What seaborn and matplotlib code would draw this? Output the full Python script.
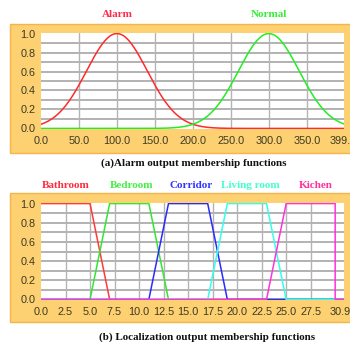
import numpy as np
import pandas as pd
import matplotlib
matplotlib.use("Agg")
import matplotlib.pyplot as plt
from matplotlib.patches import Rectangle
from matplotlib.transforms import ScaledTranslation
import seaborn as sns

# --- Alarm output: gaussian membership functions (center, width) ---
alarm_names = ["Alarm", "Normal"]
alarm_centers = [100.0, 300.0]
alarm_sigmas = [40.0, 40.0]
alarm_colors = ["#ff2a2a", "#22ee22"]
alarm_label_colors = ["#ff2a4a", "#33ee33"]
alarm_xmax = 399.0
alarm_ticks = [0, 50, 100, 150, 200, 250, 300, 350, 399]
alarm_ticklabels = ["0.0", "50.0", "100.0", "150.0", "200.0", "250.0", "300.0", "350.0", "399."]

# --- Localization output: trapezoidal membership functions (a, b, c, d) ---
room_names = ["Bathroom", "Bedroom", "Corridor", "Living room", "Kichen"]
room_a = [0.0, 5.0, 11.0, 17.0, 23.0]
room_b = [0.0, 7.0, 13.0, 19.0, 25.0]
room_c = [5.0, 11.0, 17.0, 23.0, 30.0]
room_d = [7.0, 13.0, 19.0, 25.0, 30.0]
room_colors = ["#ff3a3a", "#33e633", "#2a2aff", "#33ffee", "#ff33dd"]
room_label_colors = ["#ff2a3a", "#44ee44", "#3333ff", "#44ffcc", "#ff3399"]
room_label_x = [2.5, 9.2, 15.3, 21.3, 28.0]
room_xmax = 30.9
room_ticks = [0, 2.5, 5, 7.5, 10, 12.5, 15, 17.5, 20, 22.5, 25, 27.5, 30.9]
room_ticklabels = ["0.0", "2.5", "5.0", "7.5", "10.0", "12.5", "15.0", "17.5",
                   "20.0", "22.5", "25.0", "27.5", "30.9"]

y_ticks = [0.0, 0.2, 0.4, 0.6, 0.8, 1.0]

sns.set_style("white")
plt.rcParams["font.family"] = ["Liberation Sans", "DejaVu Sans"]

W, H = 350, 342
fig = plt.figure(figsize=(W / 100, H / 100), dpi=100)
fig.patch.set_facecolor("white")

FRAME = "#fdd072"
FRAME_EDGE = "#f2b64a"
TICK_COLOR = "#3c3a22"


def fx(px):
    return px / W


def fy(py):
    return 1 - py / H


def add_frame(top_px, bottom_px):
    fig.patches.append(Rectangle((fx(10), fy(bottom_px)), fx(352) - fx(10),
                                 fy(top_px) - fy(bottom_px),
                                 transform=fig.transFigure, facecolor=FRAME,
                                 edgecolor=FRAME_EDGE, linewidth=1.0, zorder=-5))


def style_axes(ax, xmax, xticks, xticklabels):
    ax.set_zorder(2)
    ax.set_xlim(0, xmax)
    ax.set_ylim(-0.006, 1.006)
    ax.set_facecolor("white")
    for y in np.arange(0.1, 1.0, 0.1):
        ax.axhline(y, color="#a6a6a6", lw=1.2, zorder=1)
    for x in xticks[1:-1]:
        ax.axvline(x, color="#b4b4b4", lw=1.0, zorder=1)
    ax.set_xticks(xticks)
    ax.set_xticklabels(xticklabels)
    ax.set_yticks(y_ticks)
    ax.set_yticklabels([f"{v:.1f}" for v in y_ticks])
    ax.tick_params(axis="both", direction="out", length=3, width=0.8,
                   color="#333333", labelsize=7.8, labelcolor=TICK_COLOR, pad=1)
    ax.tick_params(axis="x", pad=2)
    # keep the end-of-range label inside the panel
    last = ax.get_xticklabels()[-1]
    last.set_transform(last.get_transform() +
                       ScaledTranslation(-4 / 100, 0, fig.dpi_scale_trans))
    for s in ax.spines.values():
        s.set_visible(False)
    ax.set_xlabel("")
    ax.set_ylabel("")
    legend = ax.get_legend()
    if legend is not None:
        legend.remove()


SERIF = ["Liberation Serif", "DejaVu Serif"]

# ---------- (a) Alarm output ----------
add_frame(24, 153)
ax1 = fig.add_axes([fx(41), fy(129), fx(344) - fx(41), fy(33) - fy(129)])
xa = np.linspace(0, alarm_xmax, 400)
rows = []
for name, c, s in zip(alarm_names, alarm_centers, alarm_sigmas):
    mu = np.exp(-((xa - c) ** 2) / (2 * s ** 2))
    rows.append(pd.DataFrame({"x": xa, "mu": mu, "set": name}))
df_a = pd.concat(rows, ignore_index=True)
sns.lineplot(data=df_a, x="x", y="mu", hue="set", palette=alarm_colors,
             hue_order=alarm_names, ax=ax1, lw=1.1, zorder=3)
style_axes(ax1, alarm_xmax, alarm_ticks, alarm_ticklabels)

for name, c, col in zip(alarm_names, alarm_centers, alarm_label_colors):
    ax1.text(c, 1.17, name, ha="center", va="baseline", color=col,
             fontsize=8.0, fontweight="bold", family=SERIF)

fig.text(fx(194), fy(163), "(a)Alarm output membership functions",
         ha="center", va="center", fontsize=7.9, fontweight="bold",
         family=SERIF, color="#111111")

# ---------- (b) Localization output ----------
add_frame(193, 322)
ax2 = fig.add_axes([fx(41), fy(300), fx(344) - fx(41), fy(203) - fy(300)])
rows = []
for name, a, b, c, d in zip(room_names, room_a, room_b, room_c, room_d):
    start = 1.0 if a == 0 else 0.0
    xs = [0.0, a, b, c, d, room_xmax]
    ys = [start, start, 1.0, 1.0, 0.0, 0.0]
    rows.append(pd.DataFrame({"x": xs, "mu": ys, "set": name}))
df_b = pd.concat(rows, ignore_index=True)
for name, col in zip(room_names, room_colors):
    sub = df_b[df_b["set"] == name]
    sns.lineplot(data=sub, x="x", y="mu", sort=False, estimator=None,
                 color=col, ax=ax2, lw=1.1, zorder=3)
style_axes(ax2, room_xmax, room_ticks, room_ticklabels)

for name, x, col in zip(room_names, room_label_x, room_label_colors):
    ax2.text(x, 1.16, name, ha="center", va="baseline", color=col,
             fontsize=8.0, fontweight="bold", family=SERIF)

fig.text(fx(207), fy(337), "(b) Localization output membership functions",
         ha="center", va="center", fontsize=7.9, fontweight="bold",
         family=SERIF, color="#111111")

fig.savefig("out.png", dpi=100, facecolor="white")
